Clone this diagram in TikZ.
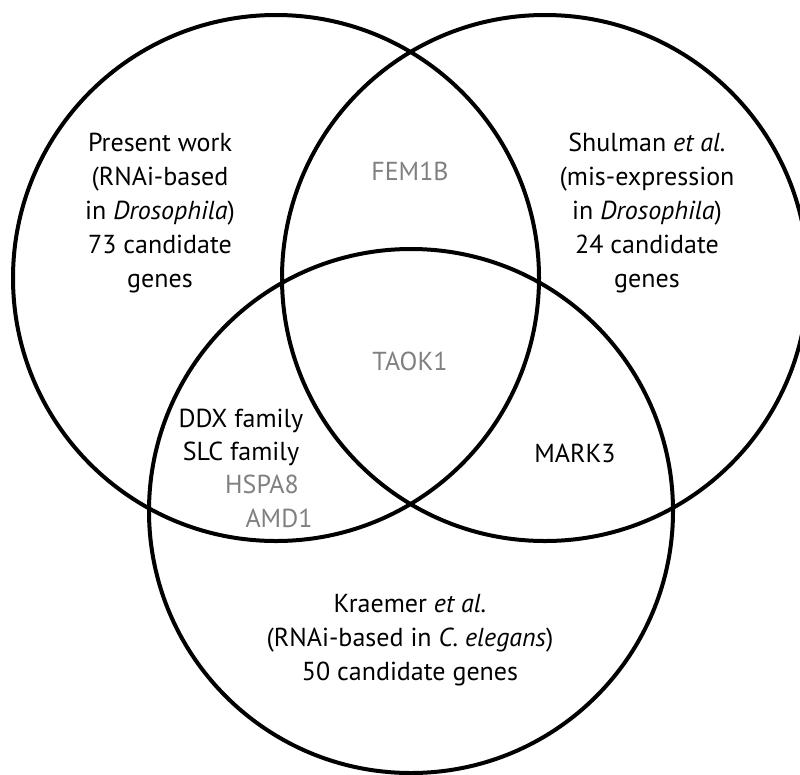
\documentclass[tikz,border=0pt]{standalone}
\usepackage{fontspec}
\setmainfont{PT Sans}
\begin{document}
\begin{tikzpicture}[x=1pt,y=-1pt,line width=4pt,
  every node/.style={font=\fontsize{26}{34}\selectfont,align=center,inner sep=0pt,anchor=base},
  gene/.style={text=black!50}]
\useasboundingbox (0,0) rectangle (800,774);
% the three screens
\draw (276,278) circle[radius=263];
\draw (545,278) circle[radius=263];
\draw (411,511) circle[radius=262];
% screen labels (base = last line)
\node (present) at (160,287) {Present work\\(RNAi-based\\in \textit{Drosophila})\\73 candidate\\genes};
\node (shulman) at (647,287) {Shulman \textit{et al.}\\(mis-expression\\in \textit{Drosophila})\\24 candidate\\genes};
\node (kraemer) at (410,680) {Kraemer \textit{et al.}\\(RNAi-based in \textit{C.~elegans})\\50 candidate genes};
% overlaps
\node[gene] (fem) at (410,180) {FEM1B};
\node[gene] (taok) at (410,370) {TAOK1};
\node (ddx) at (241,427) {DDX family};
\node (slc) at (241,460) {SLC family};
\node[gene] (hspa) at (262,493) {HSPA8};
\node[gene] (amd) at (279,527) {AMD1};
\node (mark) at (575,462) {MARK3};
\end{tikzpicture}
\end{document}
